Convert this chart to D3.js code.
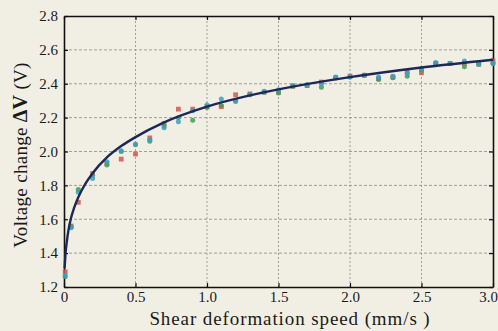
<!DOCTYPE html>
<html>
<head>
<meta charset="utf-8">
<script src="https://cdn.jsdelivr.net/npm/d3@7"></script>
<style>
  body { margin: 0; background: #f1efe3; }
  svg { display: block; }
  text { font-family: "Liberation Serif", "Times New Roman", serif; }
</style>
</head>
<body>
<div id="chart"></div>
<script>
// shear speeds (mm/s) of the measured points
var speeds = [0.0083, 0.05, 0.1, 0.2, 0.3, 0.4, 0.5, 0.6, 0.7, 0.8, 0.9, 1.0, 1.1, 1.2, 1.3, 1.4, 1.5,
  1.6, 1.7, 1.8, 1.9, 2.0, 2.1, 2.2, 2.3, 2.4, 2.5, 2.6, 2.7, 2.8, 2.9, 3.0];
var redVals = [1.29, 1.56, 1.70, 1.87, 1.93, 1.955, 1.985, 2.08, 2.165, 2.25, 2.25, 2.265, 2.265, 2.335, 2.34, 2.35, 2.35,
  2.385, 2.39, 2.41, 2.435, 2.445, 2.45, 2.43, 2.44, 2.47, 2.465, 2.52, 2.52, 2.52, 2.515, 2.535];
var greenVals = [1.26, 1.555, 1.775, 1.86, 1.92, 2.00, 2.04, 2.06, 2.15, 2.20, 2.185, 2.26, 2.27, 2.30, 2.335, 2.35, 2.345,
  2.385, 2.39, 2.38, 2.435, 2.44, 2.45, 2.425, 2.435, 2.445, 2.48, 2.52, 2.52, 2.50, 2.515, 2.52];
var cyanVals = [1.27, 1.55, 1.76, 1.84, 1.94, 2.005, 2.045, 2.07, 2.14, 2.175, 2.24, 2.275, 2.31, 2.295, 2.335, 2.355, 2.365,
  2.39, 2.395, 2.40, 2.44, 2.44, 2.45, 2.44, 2.445, 2.46, 2.49, 2.525, 2.52, 2.535, 2.52, 2.52];

// fitted curve
var fitX = [0.004, 0.01, 0.02, 0.03, 0.05, 0.07, 0.1, 0.15, 0.2, 0.3, 0.4, 0.5, 0.7, 1.0, 1.3, 1.6, 2.0, 2.5, 3.0];
var fitY = [1.31, 1.39, 1.47, 1.53, 1.61, 1.665, 1.73, 1.81, 1.872, 1.965, 2.032, 2.085, 2.172, 2.265, 2.331, 2.383, 2.439, 2.496, 2.542];

var xTicks = [0, 0.5, 1.0, 1.5, 2.0, 2.5, 3.0];
var yTicks = [1.2, 1.4, 1.6, 1.8, 2.0, 2.2, 2.4, 2.6, 2.8];

var width = 498, height = 331;
var margin = { left: 64, right: 5, top: 16, bottom: 44 };

var svg = d3.select("#chart").append("svg")
  .attr("width", width)
  .attr("height", height);

var x = d3.scaleLinear().domain([0, 3]).range([margin.left, width - margin.right]);
var y = d3.scaleLinear().domain([1.2, 2.8]).range([height - margin.bottom, margin.top]);

// grid
svg.append("g").selectAll("line").data(xTicks.slice(1, -1)).enter().append("line")
  .attr("x1", function(d) { return x(d); }).attr("x2", function(d) { return x(d); })
  .attr("y1", y(1.2)).attr("y2", y(2.8))
  .attr("stroke", "#8c8b82").attr("stroke-width", 0.8).attr("stroke-dasharray", "2,2");
svg.append("g").selectAll("line").data(yTicks.slice(1, -1)).enter().append("line")
  .attr("y1", function(d) { return y(d); }).attr("y2", function(d) { return y(d); })
  .attr("x1", x(0)).attr("x2", x(3))
  .attr("stroke", "#8c8b82").attr("stroke-width", 0.8).attr("stroke-dasharray", "3,2");

// axes with inward ticks
var xAxis = svg.append("g").attr("transform", "translate(0," + y(1.2) + ")")
  .call(d3.axisBottom(x).tickValues(xTicks).tickSizeInner(-4).tickSizeOuter(0).tickPadding(4)
    .tickFormat(function(d) { return d === 0 ? "0" : d3.format(".1f")(d); }));
var yAxis = svg.append("g").attr("transform", "translate(" + x(0) + ",0)")
  .call(d3.axisLeft(y).tickValues(yTicks).tickSizeInner(-4).tickSizeOuter(0).tickPadding(6)
    .tickFormat(d3.format(".1f")));
svg.append("g").attr("transform", "translate(0," + y(2.8) + ")")
  .call(d3.axisTop(x).tickValues(xTicks).tickSizeInner(-4).tickSizeOuter(0).tickFormat(""));
svg.append("g").attr("transform", "translate(" + x(3) + ",0)")
  .call(d3.axisRight(y).tickValues(yTicks).tickSizeInner(-4).tickSizeOuter(0).tickFormat(""));

svg.selectAll("g").attr("font-family", null);
svg.selectAll(".domain").attr("stroke", "#111").attr("stroke-width", 1.6);
svg.selectAll(".tick line").attr("stroke", "#111").attr("stroke-width", 1.2);
svg.selectAll(".tick text").style("font-size", "15px").attr("fill", "#1a1a1a");
// last x label sits against the right edge
xAxis.selectAll(".tick text").filter(function(d) { return d === 3; })
  .attr("text-anchor", "end").attr("dx", "0.3em");

// points
var series = [
  { vals: redVals, color: "#d4574c", shape: "square" },
  { vals: greenVals, color: "#3f9e58", shape: "circle" },
  { vals: cyanVals, color: "#3a9fc6", shape: "circle" }
];
series.forEach(function(s) {
  var g = svg.append("g");
  if (s.shape === "square") {
    g.selectAll("rect").data(speeds).enter().append("rect")
      .attr("x", function(d) { return x(d) - 2.4; })
      .attr("y", function(d, i) { return y(s.vals[i]) - 2.4; })
      .attr("width", 4.8).attr("height", 4.8)
      .attr("fill", s.color).attr("opacity", 0.85);
  } else {
    g.selectAll("circle").data(speeds).enter().append("circle")
      .attr("cx", function(d) { return x(d); })
      .attr("cy", function(d, i) { return y(s.vals[i]); })
      .attr("r", 2.5)
      .attr("fill", s.color).attr("opacity", 0.85);
  }
});

// fit curve
var line = d3.line()
  .x(function(d, i) { return x(fitX[i]); })
  .y(function(d) { return y(d); })
  .curve(d3.curveMonotoneX);
svg.append("path").datum(fitY)
  .attr("d", line)
  .attr("fill", "none")
  .attr("stroke", "#1e2858")
  .attr("stroke-width", 2.4);

// titles
svg.append("text")
  .attr("x", 290).attr("y", 325)
  .attr("text-anchor", "middle")
  .style("font-size", "19px").style("letter-spacing", "0.9px").attr("fill", "#1a1a1a")
  .text("Shear deformation speed (mm/s )");

var yt = svg.append("text")
  .attr("transform", "translate(27,155) rotate(-90)")
  .attr("text-anchor", "middle")
  .style("font-size", "19px").style("letter-spacing", "0.3px").attr("fill", "#1a1a1a");
yt.append("tspan").text("Voltage change ");
yt.append("tspan").attr("font-weight", "bold").style("font-size", "20px").text("\u0394V");
yt.append("tspan").text(" (V)");
</script>
</body>
</html>
